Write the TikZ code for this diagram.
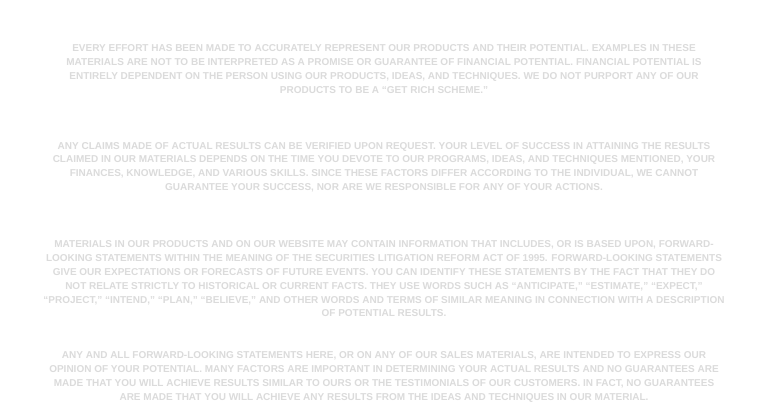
\documentclass[tikz,border=0pt]{standalone}
\usepackage{fontspec}
\setmainfont{Liberation Sans}
\usepackage{xcolor}
\definecolor{faint}{gray}{0.86}
\def\bodysize{\fontsize{10}{13.8}\selectfont}

\begin{document}
\begin{tikzpicture}[x=1pt,y=-1pt,
    para/.style={align=center, text=faint, font=\bodysize\bfseries, inner sep=0pt}]
      \useasboundingbox[fill=white] (0,0) rectangle (768,416);

      \node[para] (effort) at (384,69) {EVERY EFFORT HAS BEEN MADE TO ACCURATELY REPRESENT OUR PRODUCTS AND THEIR POTENTIAL. EXAMPLES IN THESE\\
        MATERIALS ARE NOT TO BE INTERPRETED AS A PROMISE OR GUARANTEE OF FINANCIAL POTENTIAL. FINANCIAL POTENTIAL IS\\
        ENTIRELY DEPENDENT ON THE PERSON USING OUR PRODUCTS, IDEAS, AND TECHNIQUES. WE DO NOT PURPORT ANY OF OUR\\
        PRODUCTS TO BE A ``GET RICH SCHEME.''};

      \node[para] (claims) at (384,167) {ANY CLAIMS MADE OF ACTUAL RESULTS CAN BE VERIFIED UPON REQUEST. YOUR LEVEL OF SUCCESS IN ATTAINING THE RESULTS\\
        CLAIMED IN OUR MATERIALS DEPENDS ON THE TIME YOU DEVOTE TO OUR PROGRAMS, IDEAS, AND TECHNIQUES MENTIONED, YOUR\\
        FINANCES, KNOWLEDGE, AND VARIOUS SKILLS. SINCE THESE FACTORS DIFFER ACCORDING TO THE INDIVIDUAL, WE CANNOT\\
        GUARANTEE YOUR SUCCESS, NOR ARE WE RESPONSIBLE FOR ANY OF YOUR ACTIONS.};

      \node[para] (forward) at (384,279) {MATERIALS IN OUR PRODUCTS AND ON OUR WEBSITE MAY CONTAIN INFORMATION THAT INCLUDES, OR IS BASED UPON, FORWARD-\\
        LOOKING STATEMENTS WITHIN THE MEANING OF THE SECURITIES LITIGATION REFORM ACT OF 1995. FORWARD-LOOKING STATEMENTS\\
        GIVE OUR EXPECTATIONS OR FORECASTS OF FUTURE EVENTS. YOU CAN IDENTIFY THESE STATEMENTS BY THE FACT THAT THEY DO\\
        NOT RELATE STRICTLY TO HISTORICAL OR CURRENT FACTS. THEY USE WORDS SUCH AS ``ANTICIPATE,'' ``ESTIMATE,'' ``EXPECT,''\\
        ``PROJECT,'' ``INTEND,'' ``PLAN,'' ``BELIEVE,'' AND OTHER WORDS AND TERMS OF SIMILAR MEANING IN CONNECTION WITH A DESCRIPTION\\
        OF POTENTIAL RESULTS.};

      \node[para] (opinion) at (384,377) {ANY AND ALL FORWARD-LOOKING STATEMENTS HERE, OR ON ANY OF OUR SALES MATERIALS, ARE INTENDED TO EXPRESS OUR\\
        OPINION OF YOUR POTENTIAL. MANY FACTORS ARE IMPORTANT IN DETERMINING YOUR ACTUAL RESULTS AND NO GUARANTEES ARE\\
        MADE THAT YOU WILL ACHIEVE RESULTS SIMILAR TO OURS OR THE TESTIMONIALS OF OUR CUSTOMERS. IN FACT, NO GUARANTEES\\
        ARE MADE THAT YOU WILL ACHIEVE ANY RESULTS FROM THE IDEAS AND TECHNIQUES IN OUR MATERIAL.};

    \end{tikzpicture}
\end{document}
